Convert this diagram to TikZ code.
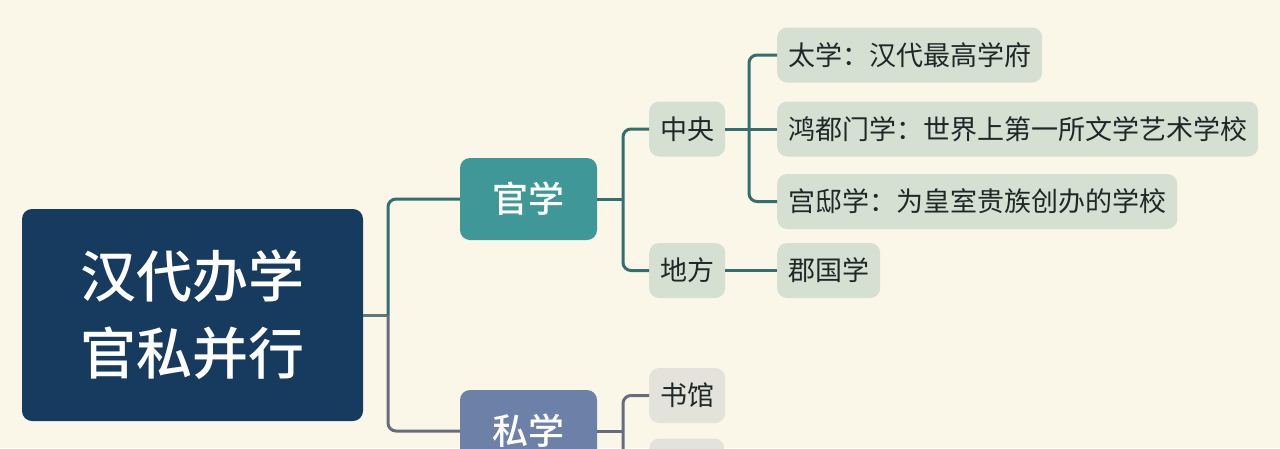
\documentclass[tikz,border=0pt]{standalone}
\usepackage{fontspec}
\newfontfamily\cjk{Noto Sans CJK SC}
\newfontfamily\cjkm{Noto Sans CJK SC Medium}
\usetikzlibrary{calc}
\definecolor{bgc}{HTML}{FAF6E8}
\definecolor{rootc}{HTML}{163B5E}
\definecolor{guanc}{HTML}{3F9798}
\definecolor{sic}{HTML}{6D80A8}
\definecolor{leafg}{HTML}{D5E0D3}
\definecolor{leafs}{HTML}{E3E3DB}
\definecolor{txtc}{HTML}{1E2828}
\definecolor{lineg}{HTML}{336F70}
\definecolor{lines}{HTML}{666C7C}
\definecolor{lineroot}{HTML}{5E7880}
\tikzset{
  rootbox/.style={fill=rootc, rounded corners=10pt, minimum width=341pt, minimum height=212pt,
    text=white, align=center, font=\cjkm\fontsize{56}{77}\selectfont, inner sep=0pt},
  midbox/.style={rounded corners=10pt, minimum width=137pt, minimum height=82pt,
    text=white, font=\cjkm\fontsize{36}{40}\selectfont, inner sep=0pt},
  leafbox/.style={fill=#1, rounded corners=10pt, minimum height=55pt, inner xsep=11pt, inner ysep=0pt,
    anchor=west, text=txtc, font=\cjk\fontsize{27}{30}\selectfont},
  gline/.style={draw=lineg, line width=3pt, rounded corners=8pt},
  sline/.style={draw=lines, line width=3pt, rounded corners=8pt},
}
\begin{document}
\begin{tikzpicture}[x=1pt,y=-1pt]
\useasboundingbox (0,0) rectangle (1280,448);
\clip (0,0) rectangle (1280,448);
\fill[bgc] (0,0) rectangle (1280,448);
% nodes
\node[rootbox] (root) at (192.5,315) {汉代办学\\官私并行};
\node[midbox, fill=guanc] (guan) at (528.5,199) {官学};
\node[midbox, fill=sic] (si) at (528.5,431) {私学};
\node[leafbox=leafg] (zy) at (649,129) {中央};
\node[leafbox=leafg] (df) at (649,270.5) {地方};
\node[leafbox=leafg] (tx) at (777,55) {太学：汉代最高学府};
\node[leafbox=leafg] (hd) at (777,129) {鸿都门学：世界上第一所文学艺术学校};
\node[leafbox=leafg] (gd) at (777,201.5) {宫邸学：为皇室贵族创办的学校};
\node[leafbox=leafg] (jg) at (777,270.5) {郡国学};
\node[leafbox=leafs] (sg) at (649,395.5) {书馆};
\node[leafbox=leafs, minimum width=75pt] (nx) at (649,466) {};
% junctions
\coordinate (j0) at (388,315);
\coordinate (j1) at (623,199);
\coordinate (j2) at (749,129);
\coordinate (j3) at (623,431);
% connectors
\draw[draw=lineroot, line width=3pt] (root.east) -- (j0);
\draw[gline] (j0) |- (guan.west);
\draw[sline] (j0) |- (si.west);
\draw[gline] (guan.east) -- (j1);
\draw[gline] (j1) |- (zy.west);
\draw[gline] (j1) |- (df.west);
\draw[gline] (zy.east) -- (j2);
\draw[gline] (j2) |- (tx.west);
\draw[gline] (j2) -- (hd.west);
\draw[gline] (j2) |- (gd.west);
\draw[gline] (df.east) -- (jg.west);
\draw[sline] (si.east) -- (j3);
\draw[sline] (j3) |- (sg.west);
\draw[sline] (j3) |- (nx.west);
\end{tikzpicture}
\end{document}
